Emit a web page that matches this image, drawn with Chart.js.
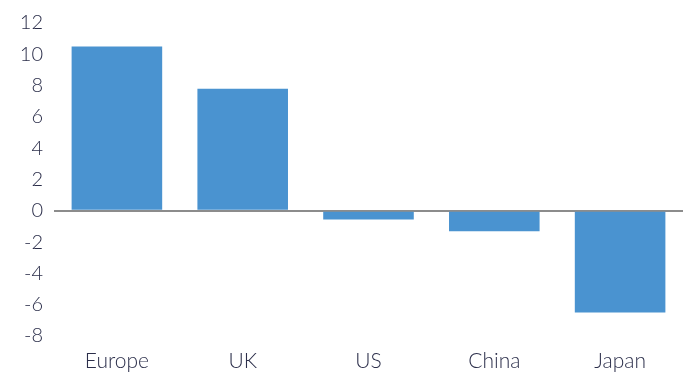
<!DOCTYPE html>
<html>
<head>
<meta charset="utf-8">
<script src="https://cdn.jsdelivr.net/npm/chart.js@4"></script>
<style>
  html, body { margin: 0; padding: 0; background: #fff; }
  #wrap { width: 683px; height: 374px; }
</style>
</head>
<body>
<div id="wrap"><canvas id="chart"></canvas></div>
<script>
const categories = ['Europe', 'UK', 'US', 'China', 'Japan'];
const values = [10.5, 7.8, -0.55, -1.3, -6.5];
const yTicks = [-8, -6, -4, -2, 0, 2, 4, 6, 8, 10, 12];

const textColor = '#2b2e4a';
const family = 'Lato, "Open Sans", sans-serif';

new Chart(document.getElementById('chart'), {
    type: 'bar',
    data: {
        labels: categories,
        datasets: [{
            data: values,
            backgroundColor: '#4a93d0',
            categoryPercentage: 1,
            barPercentage: 0.72,
        }],
    },
    options: {
        responsive: true,
        maintainAspectRatio: false,
        animation: false,
        layout: { padding: { top: 23, right: 0, left: 0, bottom: 0 } },
        plugins: {
            legend: { display: false },
            tooltip: { enabled: false },
        },
        scales: {
            x: {
                grid: { display: false },
                border: { display: false },
                ticks: { color: textColor, font: { family, size: 21, weight: 300 }, padding: 5 },
                afterFit: (axis) => { axis.height = 38; },
            },
            y: {
                min: -8,
                max: 12,
                afterBuildTicks: (axis) => { axis.ticks = yTicks.map(v => ({ value: v })); },
                grid: {
                    drawTicks: false,
                    color: (ctx) => ctx.tick && ctx.tick.value === 0 ? '#8c8c8c' : 'rgba(0,0,0,0)',
                    lineWidth: 2,
                },
                border: { display: false },
                ticks: { color: textColor, font: { family, size: 20, weight: 300 }, padding: 11 },
                afterFit: (axis) => { axis.width = 54; },
            },
        },
    },
});
</script>
</body>
</html>
